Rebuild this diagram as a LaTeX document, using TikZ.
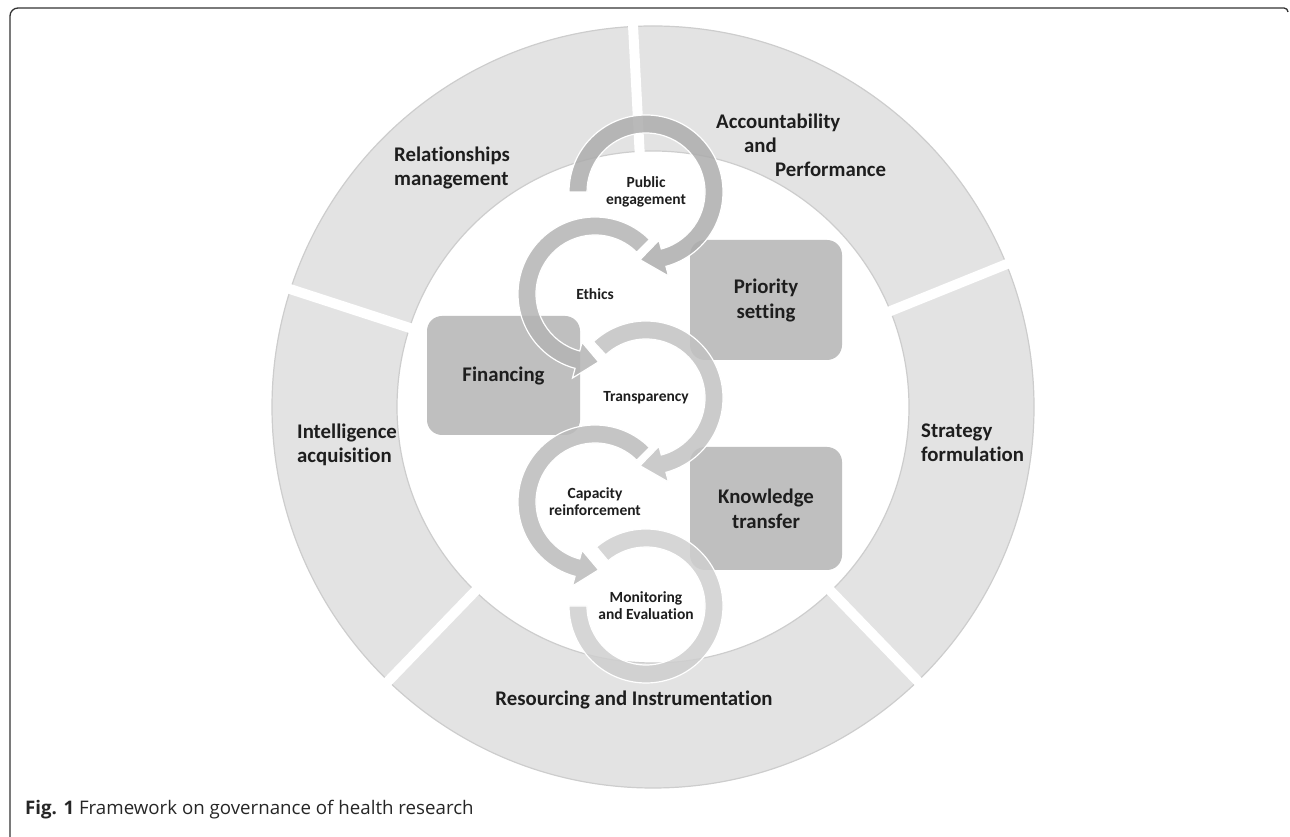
\documentclass[tikz,border=0pt]{standalone}
\usepackage{fontspec}
\setmainfont{Carlito}[Ligatures=NoCommon]
\newfontfamily\capfont{Open Sans}
\usetikzlibrary{calc}

\definecolor{ringgray}{HTML}{E3E3E3}
\definecolor{ringline}{HTML}{CDCDCD}
\definecolor{boxgray}{HTML}{BFBFBF}
\definecolor{textgray}{HTML}{1E1E1E}
\definecolor{pecol}{HTML}{ADADAD}
\definecolor{etcol}{HTML}{B4B4B4}
\definecolor{trcol}{HTML}{C2C2C2}
\definecolor{crcol}{HTML}{BBBBBB}
\definecolor{mecol}{HTML}{CFCFCF}

\begin{document}
\begin{tikzpicture}[x=1pt, y=1pt,
    ringlabel/.style={font=\fontsize{20.8}{24}\selectfont\bfseries, text=textgray, inner sep=0pt},
    boxlabel/.style={fill=boxgray, rounded corners=15pt, align=center, inner sep=0pt,
      font=\fontsize{20.8}{25}\selectfont\bfseries, text=textgray},
    smalllabel/.style={font=\fontsize{15.5}{17}\selectfont\bfseries, text=textgray, align=center, inner sep=0pt},
    band/.style={draw=white, line width=1.2pt, fill opacity=0.85}]
    \useasboundingbox (0,0) rectangle (1290,837);
    % frame
    \draw[line width=1.3pt, black!80] (10,0) -- (10,821) arc (180:90:8) -- (1284,829) arc (90:0:4);
    % outer ring
    \coordinate (ring) at (653,430);
    \filldraw[fill=ringgray, draw=ringline, line width=1.2pt] (ring) circle (381);
    \filldraw[fill=white, draw=ringline, line width=1.2pt] (ring) circle (256);
    \foreach \a in {93,22,-46,-134,162}
        \draw[white, line width=10pt, shift={(ring)}] (\a:250) -- (\a:392);
    \node[ringlabel, anchor=west, align=left] (rm) at (394,669) {Relationships\\management};
    \node[ringlabel, anchor=west, align=left] (ap) at (716,692) {Accountability\\\hspace*{28pt}and\\\hspace*{59pt}Performance};
    \node[ringlabel, anchor=west, align=left] (sf) at (921,394) {Strategy\\formulation};
    \node[ringlabel, anchor=west, align=left] (ia) at (297,392) {Intelligence\\acquisition};
    \node[ringlabel] (ri) at (634,137) {Resourcing and Instrumentation};
    % boxes
    \node[boxlabel, minimum width=153pt, minimum height=119pt] (fi) at (503.5,461.5) {Financing};
    \node[boxlabel, minimum width=152pt, minimum height=120pt] (ps) at (766,537) {Priority\\setting};
    \node[boxlabel, minimum width=152pt, minimum height=123pt] (kt) at (766,328.5) {Knowledge\\transfer};
    % cycle labels
    \node[smalllabel] (pe) at (646,645) {Public\\engagement};
    \node[smalllabel] (et) at (595,543) {Ethics};
    \node[smalllabel] (tr) at (646,439) {Transparency};
    \node[smalllabel] (cr) at (595,335) {Capacity\\reinforcement};
    \node[smalllabel] (me) at (646,231) {Monitoring\\and Evaluation};
    % circular arrows
    \filldraw[band, fill=mecol, shift={(me)}] (130:77) arc (130:-180:77) -- (-180:59) arc (-180:130:59) -- cycle;
    \filldraw[band, fill=crcol, shift={(cr)}] (45:77) arc (45:255:77) -- (255:87) -- (273:68) -- (255:50) -- (255:59) arc (255:45:59) -- cycle;
    \filldraw[band, fill=trcol, shift={(tr)}] (133:77) arc (133:-75:77) -- (-75:87) -- (-95:68) -- (-75:50) -- (-75:59) arc (-75:133:59) -- cycle;
    \filldraw[band, fill=etcol, shift={(et)}] (45:77) arc (45:255:77) -- (255:87) -- (273:68) -- (255:50) -- (255:59) arc (255:45:59) -- cycle;
    \filldraw[band, fill=pecol, shift={(pe)}] (180:77) arc (180:-75:77) -- (-75:87) -- (-95:68) -- (-75:50) -- (-75:59) arc (-75:180:59) -- cycle;
    % caption
    \node[anchor=west, inner sep=0pt, text=black!85, font=\capfont\fontsize{18.7}{22}\selectfont] (cap) at (25,27) {\textbf{Fig. 1} Framework on governance of health research};
\end{tikzpicture}
\end{document}
